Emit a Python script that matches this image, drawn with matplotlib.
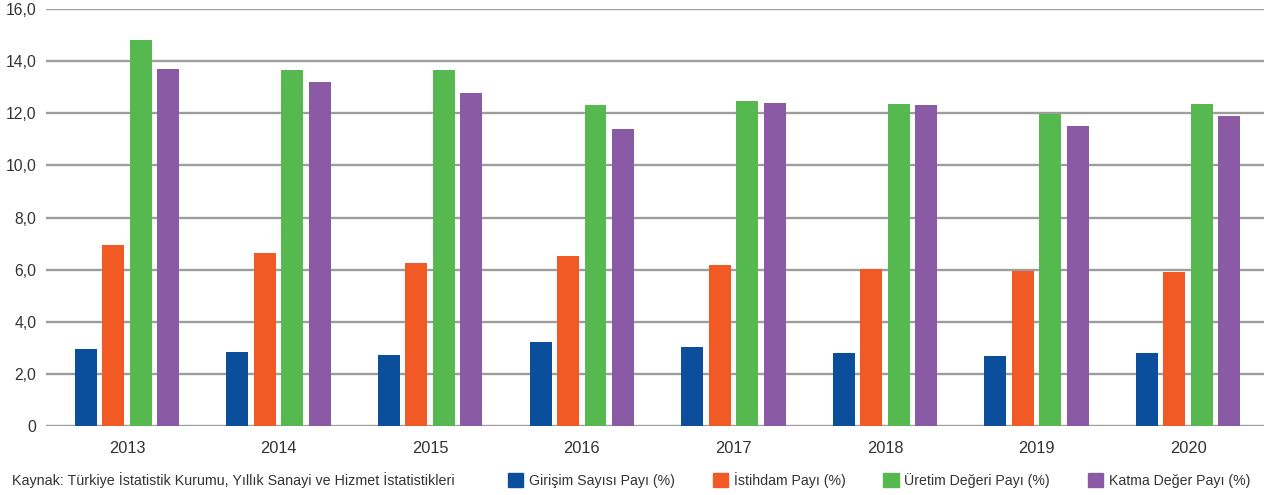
import numpy as np
import matplotlib.pyplot as plt
from matplotlib.patches import Patch

plt.rcParams['font.family'] = ['Liberation Sans', 'DejaVu Sans']

years = ['2013', '2014', '2015', '2016', '2017', '2018', '2019', '2020']
girisim = [2.95, 2.84, 2.72, 3.22, 3.03, 2.80, 2.69, 2.80]
istihdam = [6.95, 6.64, 6.25, 6.52, 6.18, 6.02, 5.95, 5.91]
uretim = [14.81, 13.66, 13.66, 12.32, 12.47, 12.36, 11.97, 12.36]
katma = [13.70, 13.20, 12.78, 11.40, 12.39, 12.32, 11.51, 11.90]

series = [
    ('Girişim Sayısı Payı (%)', girisim, '#0b4f9c'),
    ('İstihdam Payı (%)', istihdam, '#f15a24'),
    ('Üretim Değeri Payı (%)', uretim, '#55b94f'),
    ('Katma Değer Payı (%)', katma, '#8b5aa5'),
]
yticks = [0, 2, 4, 6, 8, 10, 12, 14, 16]
ytick_labels = ['0', '2,0', '4,0', '6,0', '8,0', '10,0', '12,0', '14,0', '16,0']

text_color = '#333333'

fig = plt.figure(figsize=(12.64, 4.95), dpi=100)
ax = fig.add_axes([0.0364, 0.139, 0.9636, 0.843])

x = np.arange(len(years))
width = 0.145
step = 0.181
for i, (name, vals, color) in enumerate(series):
    ax.bar(x + (i - 1.5) * step, vals, width=width, color=color, label=name, zorder=3)

ax.set_ylim(0, 16)
ax.set_xlim(-0.534, 7.5)
ax.set_yticks(yticks)
ax.set_yticklabels(ytick_labels)
ax.set_xticks(x)
ax.set_xticklabels(years)
ax.yaxis.grid(True, color='#9d9d9d', lw=1.7, zorder=0)
ax.set_axisbelow(True)
for s in ax.spines.values():
    s.set_visible(False)
ax.tick_params(axis='both', length=0, colors=text_color)
ax.tick_params(axis='y', labelsize=11.3, pad=7)
ax.tick_params(axis='x', labelsize=11.8, pad=11)

fig.text(12 / 1264, 0.031, 'Kaynak: Türkiye İstatistik Kurumu, Yıllık Sanayi ve Hizmet İstatistikleri',
         fontsize=10.3, color=text_color, va='center', ha='left')

handles = [Patch(color=c) for _, _, c in series]
labels = [n for n, _, _ in series]
fig.legend(handles, labels, loc='center left', bbox_to_anchor=(508 / 1264, 0.031), ncol=4,
           frameon=False, fontsize=10.2, handlelength=1.06, handleheight=1.1,
           handletextpad=0.42, columnspacing=2.68, borderpad=0, borderaxespad=0,
           labelcolor=text_color)

fig.savefig('out.png', dpi=100)
